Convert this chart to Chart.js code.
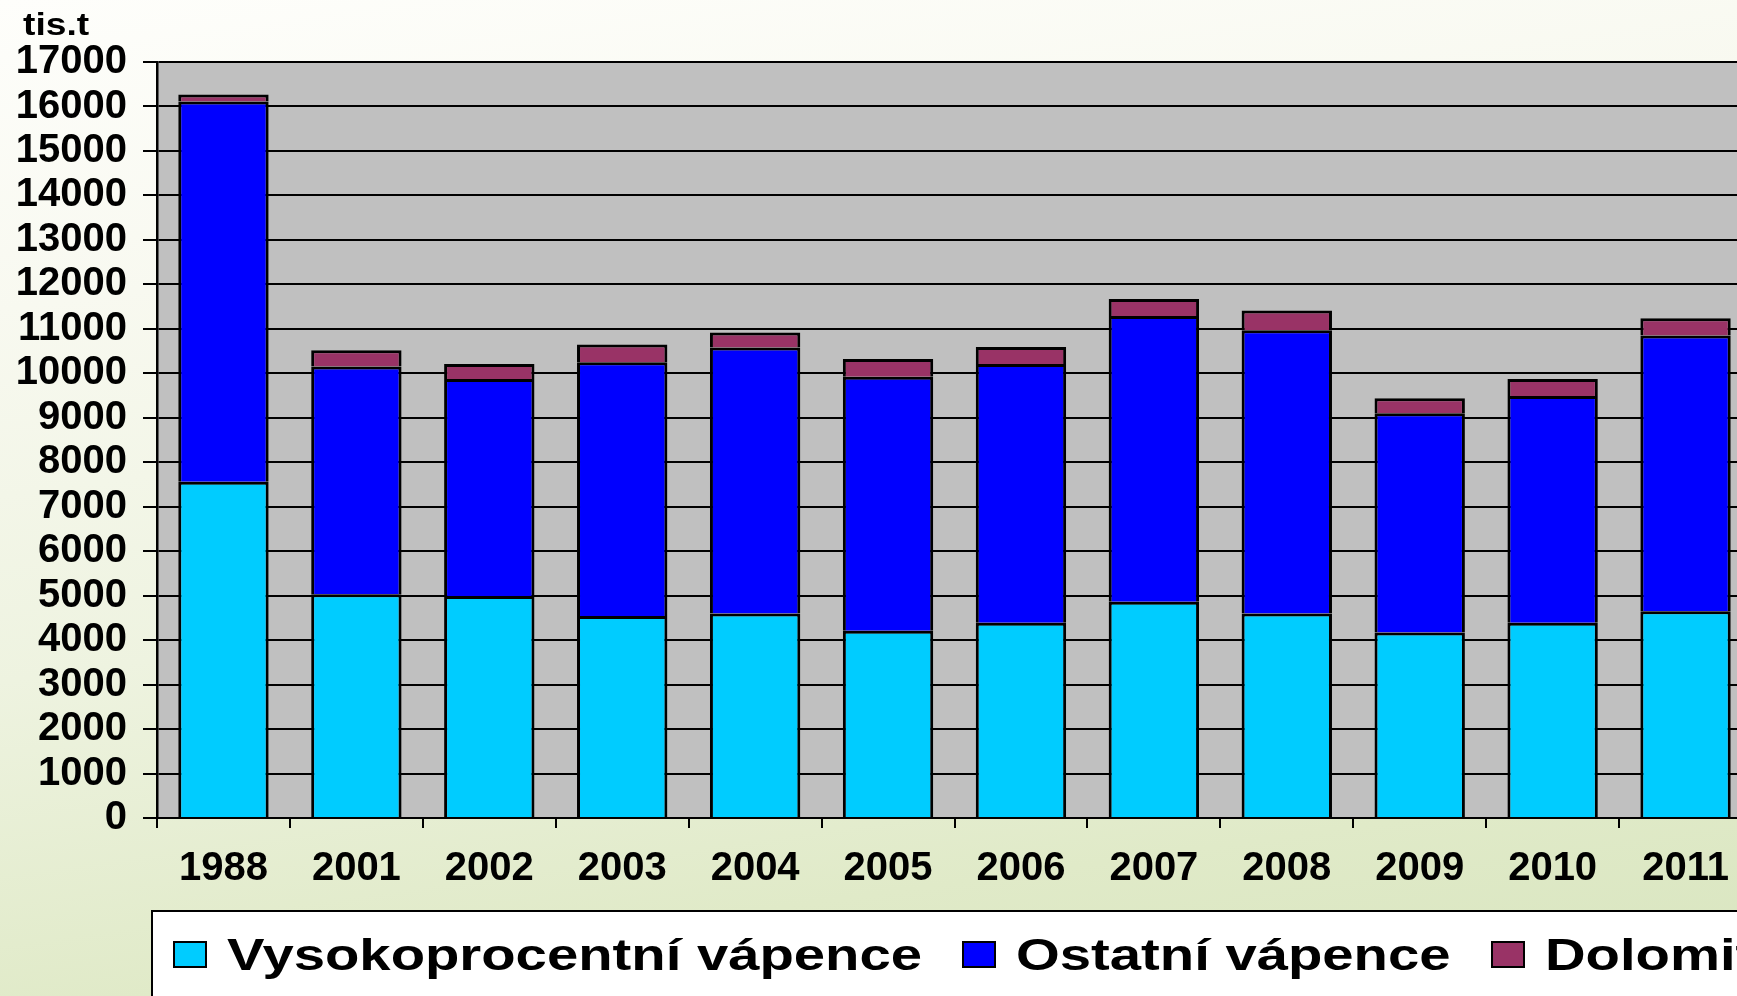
<!DOCTYPE html>
<html>
<head>
<meta charset="utf-8">
<script src="https://cdn.jsdelivr.net/npm/chart.js@4.4.1/dist/chart.umd.min.js"></script>
<style>
html,body{margin:0;padding:0;width:1737px;height:996px;overflow:hidden;}
body{position:relative;background:linear-gradient(172deg,#fefefb 0%,#f8f9f0 25%,#eef3e0 55%,#e0eac8 82%,#d8e5bf 100%);font-family:'Liberation Sans',Arial,sans-serif;}
#wrap{position:absolute;left:0;top:0;width:1760px;height:996px;}
#unit{position:absolute;left:23px;top:9px;font:bold 31px/31px 'Liberation Sans',Arial,sans-serif;transform:scaleX(1.2);transform-origin:0 0;color:#000;white-space:nowrap;}
#legend{position:absolute;left:151px;top:910px;width:1700px;height:150px;background:#fff;border:2px solid #000;box-sizing:border-box;padding:20px 0 0 20px;display:flex;align-items:flex-start;flex-wrap:nowrap;overflow:hidden;}
.item{display:flex;align-items:center;flex:none;height:45px;margin-right:40px;}
.sw{width:34px;height:27px;box-sizing:border-box;border:2px solid #000;margin-right:20px;flex:none;}
.tw{display:block;flex:none;height:45px;}
.t{display:inline-block;font:bold 45px/45px 'Liberation Sans',Arial,sans-serif;transform:scaleX(1.25);transform-origin:0 0;white-space:nowrap;color:#000;}
</style>
</head>
<body>
<div id="wrap"><canvas id="c" width="1760" height="996"></canvas></div>
<div id="unit">tis.t</div>
<div id="legend"></div>
<script>
const categories = ['1988','2001','2002','2003','2004','2005','2006','2007','2008','2009','2010','2011'];
const vysokoprocentni = [7560, 5030, 4990, 4540, 4600, 4210, 4390, 4860, 4600, 4170, 4390, 4650];
const ostatni = [8550, 5120, 4880, 5710, 5980, 5710, 5820, 6430, 6370, 4930, 5100, 6200];
const dolomity = [160, 370, 340, 400, 340, 400, 380, 380, 440, 340, 380, 390];
const seriesNames = ['Vysokoprocentní vápence', 'Ostatní vápence', 'Dolomity'];
const seriesColors = ['#00ccff', '#0000ff', '#993366'];
const yMin = 0, yMax = 17000, yStep = 1000;
const unitLabel = 'tis.t';
const legendScale = 1.25;

const FONT = "'Liberation Sans', Arial, sans-serif";

const plotBg = {
  id: 'plotBg',
  beforeDraw(chart) {
    const { ctx, chartArea: a } = chart;
    ctx.save();
    ctx.fillStyle = '#c0c0c0';
    ctx.fillRect(a.left, a.top, a.right - a.left, a.bottom - a.top);
    ctx.restore();
  }
};

const seriesData = [vysokoprocentni, ostatni, dolomity];
const datasets = seriesData.map((d, i) => ({
  label: seriesNames[i],
  data: d,
  backgroundColor: seriesColors[i],
  borderColor: '#000',
  borderWidth: 3,
  barPercentage: 0.68,
  categoryPercentage: 1.0
}));

new Chart(document.getElementById('c'), {
  type: 'bar',
  data: { labels: categories, datasets },
  options: {
    responsive: false,
    animation: false,
    devicePixelRatio: 1,
    layout: { padding: { top: 62, right: 8, bottom: 88, left: 0 } },
    plugins: { legend: { display: false }, tooltip: { enabled: false }, title: { display: false } },
    scales: {
      x: {
        stacked: true,
        grid: { offset: true, drawOnChartArea: false, drawTicks: true, tickLength: 10, color: '#000', lineWidth: 2 },
        border: { display: true, color: '#000', width: 2 },
        ticks: { color: '#000', font: { family: FONT, size: 40, weight: 'bold' }, padding: 17, maxRotation: 0, autoSkip: false },
        afterFit(axis) { axis.height = 90; }
      },
      y: {
        stacked: true,
        min: yMin,
        max: yMax,
        ticks: {
          stepSize: yStep, autoSkip: false, color: '#000',
          font: { family: FONT, size: 40, weight: 'bold', lineHeight: 1 },
          padding: 16,
          callback: (v) => String(v)
        },
        grid: { color: '#000', lineWidth: 2, tickLength: 14, drawTicks: true },
        border: { display: true, color: '#000', width: 2.5 },
        afterFit(axis) { axis.width = 157; }
      }
    }
  },
  plugins: [plotBg]
});

document.getElementById('unit').textContent = unitLabel;
const legendEl = document.getElementById('legend');
seriesNames.forEach((name, i) => {
  const item = document.createElement('div'); item.className = 'item';
  const sw = document.createElement('span'); sw.className = 'sw'; sw.style.background = seriesColors[i];
  const tw = document.createElement('span'); tw.className = 'tw';
  const t = document.createElement('span'); t.className = 't'; t.textContent = name;
  tw.appendChild(t); item.appendChild(sw); item.appendChild(tw); legendEl.appendChild(item);
  tw.style.width = (t.offsetWidth * legendScale) + 'px';
});
</script>
</body>
</html>
